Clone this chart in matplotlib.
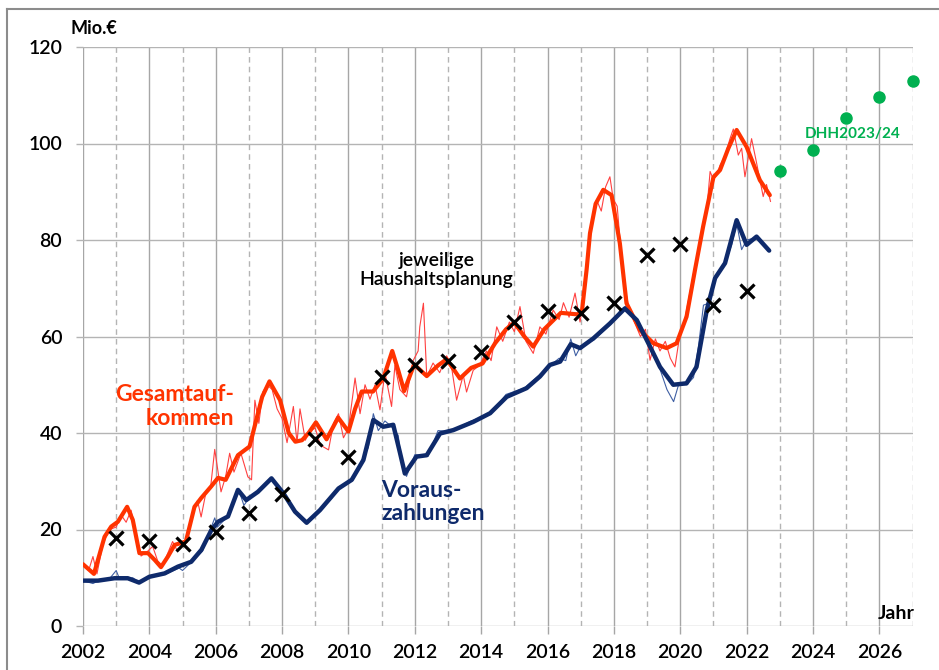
import matplotlib
matplotlib.use("Agg")
import matplotlib.pyplot as plt
from matplotlib.lines import Line2D

plt.rcParams['font.family'] = ['Lato', 'DejaVu Sans']

# Gesamtaufkommen, geglaettet (dicke Linie)
red_x = [2002.00, 2002.33, 2002.65, 2002.85, 2003.05, 2003.33, 2003.50, 2003.70, 2003.96, 2004.16,
         2004.35, 2004.56, 2004.76, 2004.95, 2005.10, 2005.36, 2005.56, 2005.86, 2006.07, 2006.30,
         2006.67, 2007.02, 2007.17, 2007.40, 2007.62, 2007.94, 2008.20, 2008.40, 2008.60, 2008.80,
         2009.02, 2009.34, 2009.69, 2010.00, 2010.20, 2010.40, 2010.74, 2011.05, 2011.32, 2011.50,
         2011.68, 2011.98, 2012.36, 2012.70, 2012.96, 2013.36, 2013.70, 2014.04, 2014.42, 2014.75,
         2015.00, 2015.30, 2015.57, 2015.90, 2016.40, 2016.88, 2017.03, 2017.18, 2017.28, 2017.45,
         2017.68, 2017.93, 2018.18, 2018.38, 2018.79, 2019.19, 2019.59, 2019.89, 2020.19, 2020.45,
         2020.69, 2021.00, 2021.20, 2021.45, 2021.70, 2022.00, 2022.40, 2022.70]
red_y = [12.8, 10.8, 18.5, 20.6, 21.6, 24.7, 22.0, 15.1, 15.1, 13.7,
         12.2, 14.4, 16.8, 17.2, 17.5, 24.7, 26.5, 28.9, 30.7, 30.3,
         35.4, 37.2, 41.3, 47.5, 50.7, 46.8, 40.0, 38.2, 38.5, 40.0,
         42.2, 38.7, 43.2, 40.3, 45.0, 48.6, 48.6, 51.3, 57.0, 53.0,
         48.7, 54.2, 51.8, 54.0, 55.3, 51.3, 53.5, 54.4, 58.6, 61.5,
         62.9, 60.0, 57.9, 61.5, 64.9, 64.6, 64.8, 74.0, 81.4, 87.5,
         90.4, 89.3, 79.3, 66.9, 61.3, 58.6, 57.6, 58.6, 64.1, 74.0,
         82.8, 93.0, 94.5, 99.0, 102.8, 99.3, 92.4, 89.3]

# Gesamtaufkommen, Monatswerte (duenne Linie)
red_thin_x = [2002.00, 2002.17, 2002.30, 2002.42, 2002.60, 2002.80, 2003.00, 2003.15, 2003.30, 2003.45,
              2003.60, 2003.75, 2003.95, 2004.10, 2004.25, 2004.40, 2004.55, 2004.70, 2004.85, 2005.00,
              2005.15, 2005.30, 2005.45, 2005.56, 2005.70, 2005.85, 2005.97, 2006.16, 2006.30, 2006.42,
              2006.55, 2006.76, 2006.97, 2007.08, 2007.18, 2007.30, 2007.42, 2007.55, 2007.70, 2007.85,
              2008.00, 2008.15, 2008.34, 2008.45, 2008.54, 2008.70, 2008.85, 2009.00, 2009.15, 2009.40,
              2009.55, 2009.70, 2009.85, 2010.00, 2010.20, 2010.35, 2010.50, 2010.65, 2010.80, 2010.95,
              2011.10, 2011.30, 2011.40, 2011.55, 2011.75, 2011.95, 2012.10, 2012.15, 2012.26, 2012.36,
              2012.55, 2012.75, 2012.96, 2013.10, 2013.26, 2013.46, 2013.56, 2013.76, 2013.95, 2014.16,
              2014.30, 2014.47, 2014.65, 2014.85, 2015.00, 2015.17, 2015.35, 2015.57, 2015.77, 2015.95,
              2016.17, 2016.35, 2016.48, 2016.65, 2016.83, 2016.98, 2017.10, 2017.25, 2017.35, 2017.48,
              2017.62, 2017.75, 2017.88, 2017.98, 2018.10, 2018.28, 2018.45, 2018.62, 2018.80, 2018.95,
              2019.09, 2019.25, 2019.39, 2019.55, 2019.70, 2019.84, 2019.98, 2020.15, 2020.40, 2020.55,
              2020.80, 2020.90, 2021.00, 2021.10, 2021.20, 2021.35, 2021.50, 2021.60, 2021.75, 2021.85,
              2021.95, 2022.15, 2022.30, 2022.50, 2022.60, 2022.72]
red_thin_y = [13.0, 11.5, 14.4, 10.8, 17.0, 20.0, 20.5, 23.0, 21.5, 24.0,
              19.0, 14.5, 15.5, 16.5, 13.5, 12.5, 15.0, 17.5, 15.5, 17.0,
              18.5, 23.5, 26.0, 22.6, 27.5, 29.0, 36.6, 27.8, 31.0, 35.8,
              31.9, 35.8, 30.9, 30.3, 46.8, 42.0, 48.5, 50.0, 49.0, 45.0,
              43.0, 38.0, 45.5, 38.0, 45.0, 38.5, 40.5, 41.0, 37.5, 36.5,
              42.0, 44.0, 39.0, 41.0, 51.4, 44.0, 50.0, 47.0, 50.0, 44.8,
              52.5, 45.5, 54.0, 49.0, 47.5, 55.0, 57.0, 62.0, 66.9, 51.7,
              54.5, 52.5, 56.0, 54.0, 46.8, 52.0, 48.5, 53.0, 54.0, 57.0,
              55.0, 62.0, 59.0, 63.0, 61.0, 66.2, 59.0, 56.5, 62.0, 60.5,
              65.5, 63.5, 67.0, 64.0, 69.0, 63.0, 68.0, 80.0, 84.0, 88.3,
              86.0, 91.0, 93.1, 88.5, 87.0, 72.0, 66.0, 63.0, 60.0, 61.5,
              55.1, 59.5, 57.0, 59.0, 55.5, 53.7, 60.0, 64.0, 73.1, 78.0,
              86.2, 94.2, 92.5, 93.5, 95.5, 97.5, 101.0, 103.0, 97.6, 99.0,
              93.1, 101.0, 96.0, 89.0, 91.5, 88.0]

# Vorauszahlungen, geglaettet (dicke Linie)
blue_x = [2002.00, 2002.45, 2002.95, 2003.35, 2003.69, 2004.00, 2004.46, 2004.86, 2005.26, 2005.57,
          2005.87, 2006.07, 2006.37, 2006.67, 2006.92, 2007.27, 2007.68, 2008.04, 2008.39, 2008.74,
          2009.14, 2009.70, 2010.10, 2010.45, 2010.60, 2010.75, 2011.05, 2011.35, 2011.55, 2011.70,
          2012.05, 2012.36, 2012.76, 2013.16, 2013.76, 2014.27, 2014.77, 2015.37, 2015.77, 2016.07,
          2016.38, 2016.70, 2016.98, 2017.38, 2017.88, 2018.33, 2018.69, 2019.09, 2019.39, 2019.79,
          2020.19, 2020.49, 2020.80, 2021.05, 2021.35, 2021.70, 2022.00, 2022.30, 2022.68]
blue_y = [9.4, 9.4, 9.9, 9.9, 9.0, 10.2, 10.9, 12.3, 13.3, 15.8,
          19.9, 21.6, 22.7, 28.2, 26.1, 27.8, 30.6, 27.5, 23.7, 21.4,
          24.0, 28.5, 30.3, 34.4, 38.5, 42.7, 41.3, 41.7, 36.0, 31.6,
          35.1, 35.4, 39.9, 40.6, 42.3, 44.1, 47.5, 49.3, 51.7, 54.1,
          54.8, 58.4, 57.6, 59.6, 62.7, 65.8, 63.4, 57.9, 53.7, 50.0,
          50.3, 53.7, 65.5, 72.1, 75.2, 84.1, 79.0, 80.7, 77.8]

# Vorauszahlungen, Monatswerte (duenne Linie)
blue_thin_x = [2002.00, 2002.30, 2002.50, 2002.80, 2003.00, 2003.10, 2003.50, 2003.70, 2004.00, 2004.50,
               2004.90, 2005.00, 2005.30, 2005.60, 2005.97, 2006.05, 2006.40, 2006.55, 2006.68, 2006.85,
               2007.00, 2007.30, 2007.70, 2008.00, 2008.40, 2008.75, 2009.15, 2009.50, 2009.70, 2010.10,
               2010.45, 2010.60, 2010.75, 2010.90, 2011.10, 2011.35, 2011.50, 2011.62, 2011.75, 2012.00,
               2012.40, 2012.70, 2013.10, 2013.70, 2014.30, 2014.75, 2015.30, 2015.75, 2016.00, 2016.35,
               2016.55, 2016.70, 2016.85, 2017.00, 2017.40, 2017.90, 2018.20, 2018.40, 2018.70, 2019.10,
               2019.40, 2019.60, 2019.80, 2019.95, 2020.20, 2020.40, 2020.55, 2020.70, 2020.90, 2021.10,
               2021.35, 2021.55, 2021.70, 2021.85, 2022.00, 2022.30, 2022.68]
blue_thin_y = [9.4, 8.8, 9.5, 9.8, 11.5, 9.8, 10.0, 9.0, 10.2, 10.8,
               12.0, 11.5, 13.5, 15.5, 22.4, 20.5, 23.0, 25.5, 28.5, 25.0,
               26.5, 28.0, 30.8, 27.5, 23.5, 21.2, 24.0, 26.5, 28.8, 30.0,
               35.0, 37.0, 44.0, 40.5, 42.5, 41.0, 39.5, 33.0, 31.0, 35.5,
               35.2, 40.5, 40.3, 42.5, 44.0, 48.0, 49.3, 52.0, 53.5, 55.5,
               55.0, 59.5, 56.0, 58.0, 59.3, 62.5, 65.5, 66.5, 63.0, 57.5,
               53.0, 49.0, 46.5, 50.0, 50.0, 51.5, 58.0, 66.5, 67.0, 73.0,
               75.0, 79.0, 83.5, 78.0, 80.0, 80.5, 78.0]

# jeweilige Haushaltsplanung
plan_years = [2003, 2004, 2005, 2006, 2007, 2008, 2009, 2010, 2011, 2012,
              2013, 2014, 2015, 2016, 2017, 2018, 2019, 2020, 2021, 2022]
plan_values = [18.2, 17.6, 17.0, 19.5, 23.4, 27.4, 38.8, 35.0, 51.6, 54.1,
               54.9, 56.8, 63.0, 65.3, 64.9, 66.9, 76.9, 79.2, 66.5, 69.4]

# DHH2023/24
dhh_years = [2023, 2024, 2025, 2026, 2027]
dhh_values = [94.3, 98.7, 105.3, 109.6, 113.0]

RED = '#ff3300'
RED_THIN = '#ff4040'
BLUE = '#0e2a6b'
BLUE_THIN = '#3f5fa3'
GREEN = '#00b050'

fig = plt.figure(figsize=(9.39, 6.70), dpi=100)
ax = fig.add_axes([83 / 939, 1 - 626 / 670, (912.5 - 83) / 939, (626 - 47) / 670])
ax.set_xlim(2002, 2027)
ax.set_ylim(0, 120)

for s in ax.spines.values():
    s.set_visible(False)

# Gitter
for yr in range(2002, 2028):
    if yr % 2 == 0:
        ax.axvline(yr, color='#a6a6a6', lw=1.0, zorder=0)
    else:
        ax.axvline(yr, color='#b4b4b4', lw=1.0, ls=(0, (4, 3)), zorder=0)
for v in range(0, 121, 20):
    ax.axhline(v, color='#b4b4b4', lw=1.0, zorder=0)

ax.set_xticks(range(2002, 2027, 2))
ax.set_yticks(range(0, 121, 20))
ax.tick_params(axis='x', length=6, color='#a6a6a6', width=1.0, labelsize=14, pad=7)
ax.tick_params(axis='y', length=5, color='#b4b4b4', width=1.0, labelsize=14, pad=10)
for lbl in ax.get_xticklabels() + ax.get_yticklabels():
    lbl.set_fontweight('semibold')

ax.plot(red_thin_x, red_thin_y, color=RED_THIN, lw=0.8, zorder=2)
ax.plot(blue_thin_x, blue_thin_y, color=BLUE_THIN, lw=0.8, zorder=2)
ax.plot(red_x, red_y, color=RED, lw=3.0, solid_joinstyle='round', solid_capstyle='round', zorder=3)
ax.plot(blue_x, blue_y, color=BLUE, lw=3.2, solid_joinstyle='round', solid_capstyle='round', zorder=3)
ax.plot(plan_years, plan_values, ls='none', marker='x', color='black', ms=10, mew=2.3, zorder=4)
ax.plot(dhh_years, dhh_values, ls='none', marker='o', color=GREEN, ms=8, zorder=4, clip_on=False)

# Beschriftungen
ax.text(2006.55, 45.5, 'Gesamtauf-\nkommen', color=RED, fontsize=16.5, fontweight='bold',
        ha='right', va='center', multialignment='right', linespacing=1.15)
ax.text(2010.98, 25.7, 'Voraus-\nzahlungen', color=BLUE, fontsize=16.5, fontweight='bold',
        ha='left', va='center', multialignment='left', linespacing=1.15)
ax.text(2012.65, 73.8, 'jeweilige\nHaushaltsplanung', color='black', fontsize=14, fontweight='semibold',
        ha='center', va='center', multialignment='center', linespacing=1.2)
ax.text(2025.2, 102.0, 'DHH2023/24', color=GREEN, fontsize=11, fontweight='bold',
        ha='center', va='center')
ax.text(2027.05, 2.5, 'Jahr', color='black', fontsize=14, fontweight='bold',
        ha='right', va='center')
fig.text(70 / 939, 1 - 28 / 670, 'Mio.€', color='black', fontsize=13, fontweight='bold',
         ha='left', va='center')

# Rahmen
fig.add_artist(Line2D([7 / 939, 7 / 939], [0, 1 - 9 / 670], color='#8c8c8c', lw=1.5,
                      transform=fig.transFigure))
fig.add_artist(Line2D([7 / 939, 1], [1 - 9 / 670, 1 - 9 / 670], color='#8c8c8c', lw=1.5,
                      transform=fig.transFigure))

fig.savefig('out.png', dpi=100)
